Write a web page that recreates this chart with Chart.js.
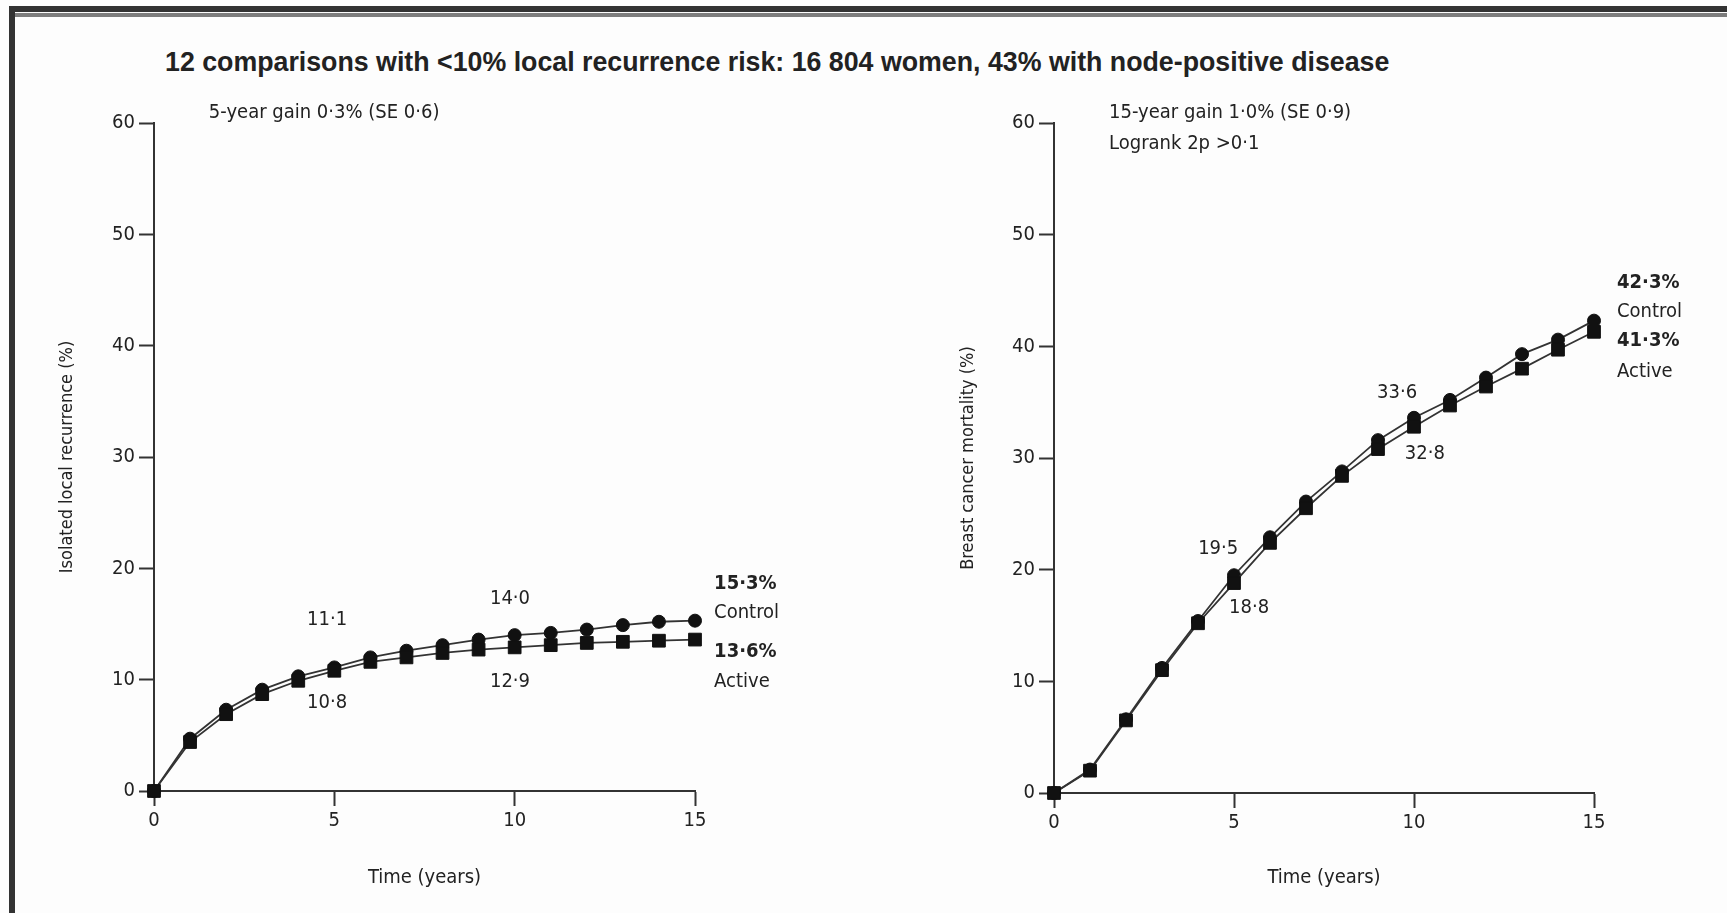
<!DOCTYPE html>
<html>
<head>
<meta charset="utf-8">
<script src="https://cdn.jsdelivr.net/npm/chart.js@4.4.1/dist/chart.umd.min.js"></script>
<style>
  html, body { margin: 0; padding: 0; background: #fdfdfd; }
  body { width: 1727px; height: 913px; position: relative; overflow: hidden; color: #222; }
  canvas { position: absolute; top: 0; }
  #c1 { left: 0; }
  #c2 { left: 863px; }
  .bar { position: absolute; }
  #frameTop { left: 9px; top: 6px; width: 1718px; height: 6px; background: #333; }
  #frameTop2 { left: 9px; top: 13px; width: 1718px; height: 4px; background: #7d7d7d; }
  #frameLeft { left: 9px; top: 6px; width: 6px; height: 907px; background: #333; }
  #title { position: absolute; left: 165px; top: 48px; font-family: "Liberation Sans", Arial, sans-serif;
           font-weight: bold; font-size: 23px; line-height: 28px; white-space: nowrap; color: #222; }
</style>
</head>
<body>
<div class="bar" id="frameTop"></div>
<div class="bar" id="frameTop2"></div>
<div class="bar" id="frameLeft"></div>
<div id="title">12 comparisons with &lt;10% local recurrence risk: 16 804 women, 43% with node-positive disease</div>
<canvas id="c1" width="863" height="913"></canvas>
<canvas id="c2" width="864" height="913"></canvas>
<script>
// values
const years = [0, 1, 2, 3, 4, 5, 6, 7, 8, 9, 10, 11, 12, 13, 14, 15];
const recurControl = [0, 4.7, 7.3, 9.1, 10.3, 11.1, 12.0, 12.6, 13.1, 13.6, 14.0, 14.2, 14.5, 14.9, 15.2, 15.3];
const recurActive = [0, 4.4, 6.9, 8.7, 9.9, 10.8, 11.6, 12.0, 12.4, 12.7, 12.9, 13.1, 13.3, 13.4, 13.5, 13.6];
const mortControl = [0, 2.1, 6.6, 11.2, 15.4, 19.5, 22.9, 26.1, 28.8, 31.6, 33.6, 35.2, 37.2, 39.3, 40.6, 42.3];
const mortActive = [0, 2.0, 6.5, 11.0, 15.2, 18.8, 22.4, 25.5, 28.4, 30.8, 32.8, 34.7, 36.4, 38.0, 39.7, 41.3];
const xTicks = [0, 5, 10, 15];
const yTicks = [0, 10, 20, 30, 40, 50, 60];

const FONT = '"Liberation Sans Narrow", "DejaVu Sans Condensed", sans-serif';
const INK = '#222';

// fit title to its printed width
(function () {
  const t = document.getElementById('title');
  const w = t.getBoundingClientRect().width;
  t.style.fontSize = (23 * 1225 / w).toFixed(2) + 'px';
})();

const notesPlugin = {
  id: 'notes',
  afterDraw(chart, args, opts) {
    const { ctx } = chart;
    const x = chart.scales.x, y = chart.scales.y;
    ctx.save();
    ctx.fillStyle = INK;
    ctx.textBaseline = 'middle';
    for (const n of opts.items) {
      ctx.font = (n.bold ? 'bold ' : '') + (n.size || 20) + 'px ' + FONT;
      ctx.textAlign = n.align || 'center';
      ctx.fillText(n.text, x.getPixelForValue(n.x), y.getPixelForValue(n.y));
    }
    ctx.restore();
  }
};

function pts(ys) {
  return years.map((yr, i) => ({ x: yr, y: ys[i] }));
}

function series(label, ys, shape) {
  return {
    label: label,
    data: pts(ys),
    borderColor: '#333',
    borderWidth: 1.8,
    backgroundColor: '#111',
    pointBackgroundColor: '#111',
    pointBorderColor: '#111',
    pointStyle: shape,
    pointRadius: shape === 'rect' ? 9 : 6.5,
    pointBorderWidth: 1,
    tension: 0,
    clip: false
  };
}

function makeChart(id, cfg) {
  new Chart(document.getElementById(id), {
    type: 'line',
    data: {
      datasets: [
        series('Active', cfg.active, 'rect'),
        series('Control', cfg.control, 'circle')
      ]
    },
    plugins: [notesPlugin],
    options: {
      responsive: false,
      animation: false,
      layout: { padding: { left: 0, top: 123, right: cfg.padRight, bottom: 0 } },
      plugins: {
        legend: { display: false },
        tooltip: { enabled: false },
        notes: { items: cfg.notes }
      },
      scales: {
        x: {
          type: 'linear',
          min: 0, max: 15,
          afterBuildTicks: s => { s.ticks = xTicks.map(v => ({ value: v })); },
          afterFit: s => { s.height = cfg.xHeight; },
          grid: { drawOnChartArea: false, drawTicks: true, tickLength: 15, tickWidth: 2, tickColor: '#333' },
          border: { display: true, color: '#333', width: 2 },
          ticks: { color: INK, padding: 3, maxRotation: 0, autoSkip: false, font: { family: FONT, size: 20 } },
          title: { display: true, text: 'Time (years)', color: INK, font: { family: FONT, size: 20 }, padding: { top: 0, bottom: 23 } }
        },
        y: {
          type: 'linear',
          min: 0, max: 60,
          afterBuildTicks: s => { s.ticks = yTicks.map(v => ({ value: v })); },
          afterFit: s => { s.width = cfg.yWidth; },
          grid: { drawOnChartArea: false, drawTicks: true, tickLength: 15, tickWidth: 2, tickColor: '#333' },
          border: { display: true, color: '#333', width: 2 },
          ticks: { color: INK, padding: 4, font: { family: FONT, size: 20 } },
          title: { display: true, text: cfg.yTitle, color: INK, font: { family: FONT, size: 18 }, padding: { top: cfg.yTitlePad, bottom: 0 } }
        }
      }
    }
  });
}

makeChart('c1', {
  control: recurControl,
  active: recurActive,
  yTitle: 'Isolated local recurrence (%)',
  yWidth: 154, yTitlePad: 57, xHeight: 122, padRight: 168,
  notes: [
    { text: '5-year gain 0·3% (SE 0·6)', x: 1.52, y: 60.9, align: 'left' },
    { text: '11·1', x: 4.8, y: 15.4 },
    { text: '10·8', x: 4.8, y: 7.9 },
    { text: '14·0', x: 9.87, y: 17.3 },
    { text: '12·9', x: 9.87, y: 9.8 },
    { text: '15·3%', x: 15.53, y: 18.6, align: 'left', bold: true },
    { text: 'Control', x: 15.53, y: 16.0, align: 'left' },
    { text: '13·6%', x: 15.53, y: 12.5, align: 'left', bold: true },
    { text: 'Active', x: 15.53, y: 9.8, align: 'left' }
  ]
});

makeChart('c2', {
  control: mortControl,
  active: mortActive,
  yTitle: 'Breast cancer mortality (%)',
  yWidth: 191, yTitlePad: 95, xHeight: 120, padRight: 133,
  notes: [
    { text: '15-year gain 1·0% (SE 0·9)', x: 1.53, y: 60.9, align: 'left' },
    { text: 'Logrank 2p >0·1', x: 1.53, y: 58.1, align: 'left' },
    { text: '33·6', x: 9.53, y: 35.8 },
    { text: '32·8', x: 10.3, y: 30.4 },
    { text: '19·5', x: 4.56, y: 21.9 },
    { text: '18·8', x: 5.42, y: 16.6 },
    { text: '42·3%', x: 15.64, y: 45.7, align: 'left', bold: true },
    { text: 'Control', x: 15.64, y: 43.1, align: 'left' },
    { text: '41·3%', x: 15.64, y: 40.5, align: 'left', bold: true },
    { text: 'Active', x: 15.64, y: 37.7, align: 'left' }
  ]
});
</script>
</body>
</html>
